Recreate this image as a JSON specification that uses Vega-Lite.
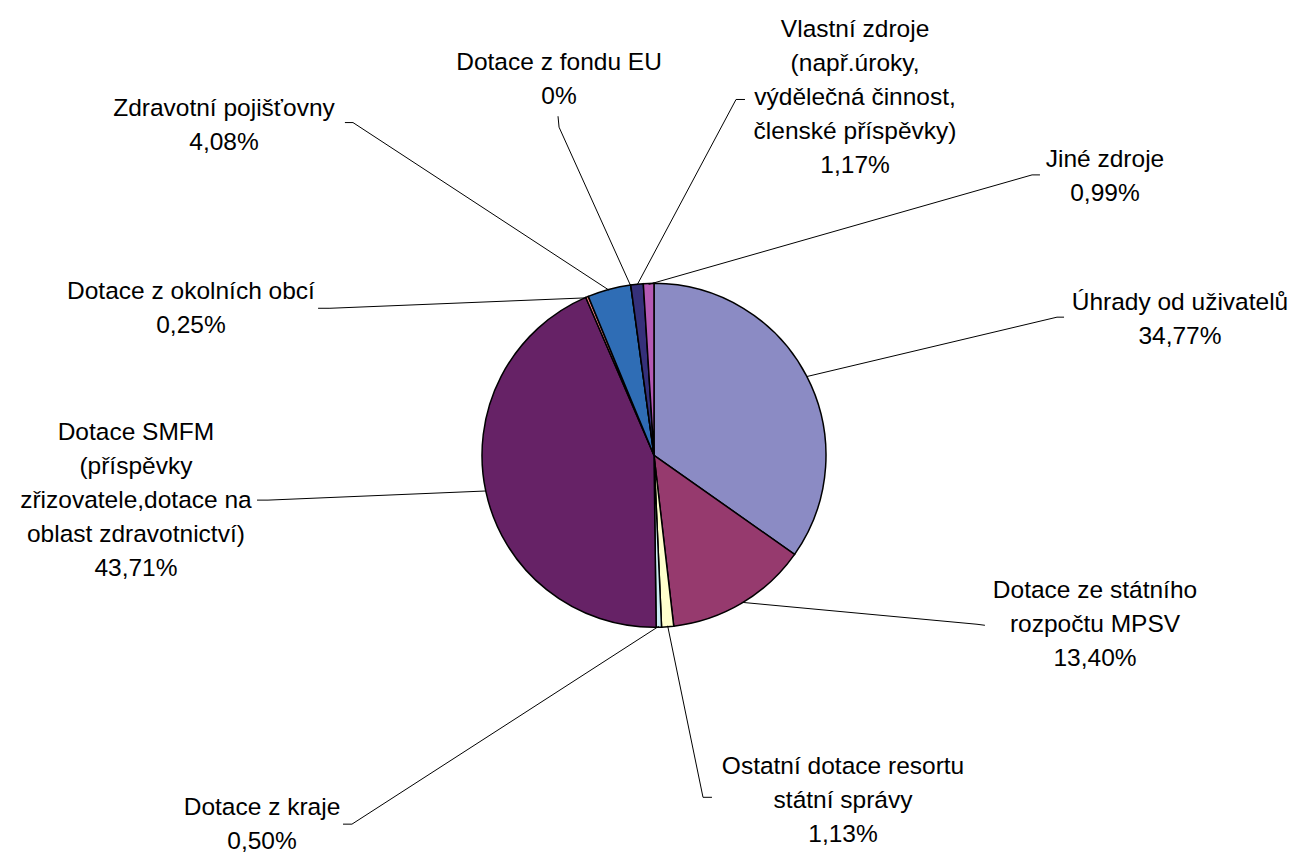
{
  "$schema": "https://vega.github.io/schema/vega-lite/v6.json",
  "width": 1296,
  "height": 854,
  "autosize": {"type": "fit", "contains": "padding"},
  "padding": 0,
  "background": "white",
  "config": {"view": {"stroke": null}},
  "data": {
    "values": [
      {"idx": 1, "cat": "Úhrady od uživatelů", "value": 34.77, "lines": ["Úhrady od uživatelů", "34,77%"], "tx": 3.058, "ty": 0.852, "lx": [2.384, 2.343], "ly": [0.808, 0.808]},
      {"idx": 2, "cat": "Dotace ze státního rozpočtu MPSV", "value": 13.40, "lines": ["Dotace ze státního", "rozpočtu MPSV", "13,40%"], "tx": 2.564, "ty": -0.834, "lx": [1.924, 1.878], "ly": [-0.994, -0.988]},
      {"idx": 3, "cat": "Ostatní dotace resortu státní správy", "value": 1.13, "lines": ["Ostatní dotace resortu", "státní správy", "1,13%"], "tx": 1.099, "ty": -1.866, "lx": [0.337, 0.285], "ly": [-2.0, -2.0]},
      {"idx": 4, "cat": "Dotace z kraje", "value": 0.50, "lines": ["Dotace z kraje", "0,50%"], "tx": -2.279, "ty": -2.105, "lx": [-1.808, -1.756], "ly": [-2.157, -2.157]},
      {"idx": 5, "cat": "Dotace SMFM", "value": 43.71, "lines": ["Dotace SMFM", "(příspěvky", "zřizovatele,dotace na", "oblast zdravotnictví)", "43,71%"], "tx": -3.012, "ty": 0.087, "lx": [-2.308, -2.244], "ly": [-0.262, -0.262]},
      {"idx": 6, "cat": "Dotace z okolních obcí", "value": 0.25, "lines": ["Dotace z okolních obcí", "0,25%"], "tx": -2.692, "ty": 0.913, "lx": [-1.953, -1.884], "ly": [0.860, 0.860]},
      {"idx": 7, "cat": "Zdravotní pojišťovny", "value": 4.08, "lines": ["Zdravotní pojišťovny", "4,08%"], "tx": -2.5, "ty": 1.984, "lx": [-1.797, -1.750], "ly": [1.946, 1.946]},
      {"idx": 8, "cat": "Dotace z fondu EU", "value": 0, "lines": ["Dotace z fondu EU", "0%"], "tx": -0.552, "ty": 2.256, "lx": [-0.558, -0.552], "ly": [1.983, 1.919]},
      {"idx": 9, "cat": "Vlastní zdroje", "value": 1.17, "lines": ["Vlastní zdroje", "(např.úroky,", "výdělečná činnost,", "členské příspěvky)", "1,17%"], "tx": 1.169, "ty": 2.448, "lx": [0.529, 0.477], "ly": [2.081, 2.081]},
      {"idx": 10, "cat": "Jiné zdroje", "value": 0.99, "lines": ["Jiné zdroje", "0,99%"], "tx": 2.622, "ty": 1.686, "lx": [2.244, 2.198], "ly": [1.640, 1.640]}
    ]
  },
  "layer": [
    {
      "mark": {
        "type": "arc",
        "x": {"expr": "scale('x', 0)"},
        "y": {"expr": "scale('y', 0)"},
        "outerRadius": {"expr": "scale('x', 1) - scale('x', 0)"},
        "stroke": "black",
        "strokeWidth": 1.5
      },
      "encoding": {
        "theta": {"field": "value", "type": "quantitative", "stack": true},
        "order": {"field": "idx", "type": "quantitative"},
        "color": {
          "field": "cat",
          "type": "nominal",
          "scale": {
            "domain": ["Úhrady od uživatelů", "Dotace ze státního rozpočtu MPSV", "Ostatní dotace resortu státní správy", "Dotace z kraje", "Dotace SMFM", "Dotace z okolních obcí", "Zdravotní pojišťovny", "Dotace z fondu EU", "Vlastní zdroje", "Jiné zdroje"],
            "range": ["#8B8BC4", "#963A6E", "#FFFFCC", "#CCECF5", "#662266", "#F08080", "#2F6DB5", "#CCCCFF", "#35307A", "#B45AB4"]
          },
          "legend": null
        }
      }
    },
    {
      "transform": [
        {"joinaggregate": [{"op": "sum", "field": "value", "as": "total"}]},
        {"window": [{"op": "sum", "field": "value", "as": "cum"}], "sort": [{"field": "idx"}], "frame": [null, 0]},
        {"calculate": "2 * PI * (datum.cum - datum.value / 2) / datum.total", "as": "ang"},
        {"calculate": "[datum.lx[0], datum.lx[1], sin(datum.ang)]", "as": "xs"},
        {"calculate": "[datum.ly[0], datum.ly[1], cos(datum.ang)]", "as": "ys"},
        {"calculate": "[0, 1, 2]", "as": "k"},
        {"flatten": ["xs", "ys", "k"]}
      ],
      "mark": {"type": "line", "color": "black", "strokeWidth": 1},
      "encoding": {
        "x": {"field": "xs", "type": "quantitative", "scale": {"domain": [-3.8023, 3.7326], "nice": false, "zero": false}, "axis": null},
        "y": {"field": "ys", "type": "quantitative", "scale": {"domain": [-2.3023, 2.6628], "nice": false, "zero": false}, "axis": null},
        "detail": {"field": "cat", "type": "nominal"},
        "order": {"field": "k", "type": "quantitative"}
      }
    },
    {
      "mark": {"type": "text", "font": "Liberation Sans", "fontSize": 24.5, "lineHeight": 34, "align": "center", "baseline": "alphabetic", "color": "black"},
      "encoding": {
        "x": {"field": "tx", "type": "quantitative"},
        "y": {"field": "ty", "type": "quantitative"},
        "text": {"field": "lines", "type": "nominal"}
      }
    }
  ]
}
